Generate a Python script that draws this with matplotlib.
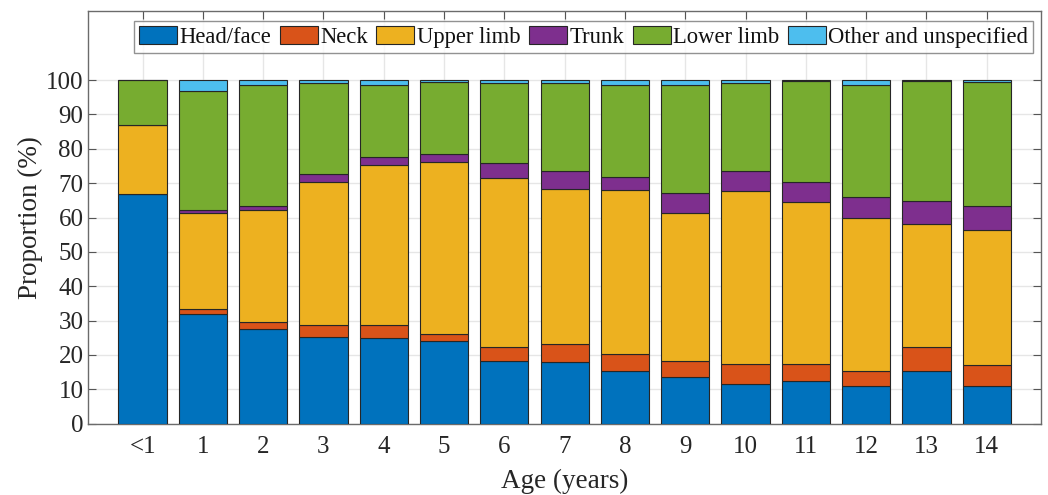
import matplotlib
matplotlib.use("Agg")
import matplotlib.pyplot as plt
import numpy as np

ages = ["<1", "1", "2", "3", "4", "5", "6", "7", "8", "9", "10", "11", "12", "13", "14"]
head_face = [66.8, 31.9, 27.5, 25.2, 24.9, 24.0, 18.2, 17.9, 15.4, 13.6, 11.6, 12.3, 10.9, 15.4, 11.1]
neck = [0.0, 1.4, 2.1, 3.4, 3.7, 2.1, 4.0, 5.2, 5.0, 4.6, 5.8, 5.1, 4.5, 7.0, 5.9]
upper_limb = [20.1, 28.0, 32.6, 41.7, 46.6, 50.0, 49.3, 45.3, 47.5, 43.2, 50.3, 47.1, 44.4, 35.7, 39.3]
trunk = [0.0, 0.8, 1.1, 2.3, 2.4, 2.3, 4.3, 5.2, 3.9, 5.7, 5.9, 5.9, 6.2, 6.7, 7.1]
lower_limb = [13.1, 34.8, 35.3, 26.5, 21.1, 21.0, 23.3, 25.5, 26.7, 31.4, 25.5, 29.3, 32.6, 35.0, 36.0]
other = [0.0, 3.1, 1.4, 0.9, 1.3, 0.6, 0.9, 0.9, 1.5, 1.5, 0.9, 0.3, 1.4, 0.2, 0.6]

series = [
    ("Head/face", head_face, "#0072BD"),
    ("Neck", neck, "#D95319"),
    ("Upper limb", upper_limb, "#EDB120"),
    ("Trunk", trunk, "#7E2F8E"),
    ("Lower limb", lower_limb, "#77AC30"),
    ("Other and unspecified", other, "#4DBEEE"),
]

plt.rcParams['font.family'] = ['Liberation Serif', 'DejaVu Serif']
fs = 18

fig = plt.figure(figsize=(10.48, 4.95), dpi=100)
ax = fig.add_axes([88.3 / 1048, (495 - 423.7) / 495, (1041 - 88.3) / 1048, (423.7 - 11.3) / 495])

x = np.arange(len(ages))
bottom = np.zeros(len(ages))
for name, vals, col in series:
    v = np.array(vals)
    ax.bar(x, v, width=0.8, bottom=bottom, color=col, edgecolor="#262626",
           linewidth=0.8, label=name, zorder=3)
    bottom += v

ax.set_xlim(-0.9, 14.9)
ax.set_ylim(0, 120)
ax.set_yticks(np.arange(0, 101, 10))
ax.set_xticks(x)
ax.set_xticklabels(ages)
ax.grid(True, color="#e6e6e6", linewidth=1.0, zorder=0)
ax.set_axisbelow(True)
ax.tick_params(axis="both", direction="in", length=6, width=0.8, color="#555555",
               labelsize=fs, top=True, right=True, labelcolor="#262626")
ax.tick_params(axis="x", pad=9)
for s in ax.spines.values():
    s.set_color("#6b6b6b")
    s.set_linewidth(1.0)

ax.set_xlabel("Age (years)", fontsize=19.5, color="#262626", labelpad=8)
ax.set_ylabel("Proportion (%)", fontsize=19.5, color="#262626", labelpad=2)

leg = ax.legend(loc="upper center", bbox_to_anchor=(0.520, 0.976), ncol=6,
                fontsize=16.3, frameon=True, fancybox=False, edgecolor="#777777",
                handlelength=1.68, handleheight=0.85, handletextpad=0.12,
                columnspacing=0.36, borderpad=0.22, borderaxespad=0.0)
leg.get_frame().set_linewidth(1.0)
for t in leg.get_texts():
    t.set_color("#111111")

fig.savefig("out.png", dpi=100)
